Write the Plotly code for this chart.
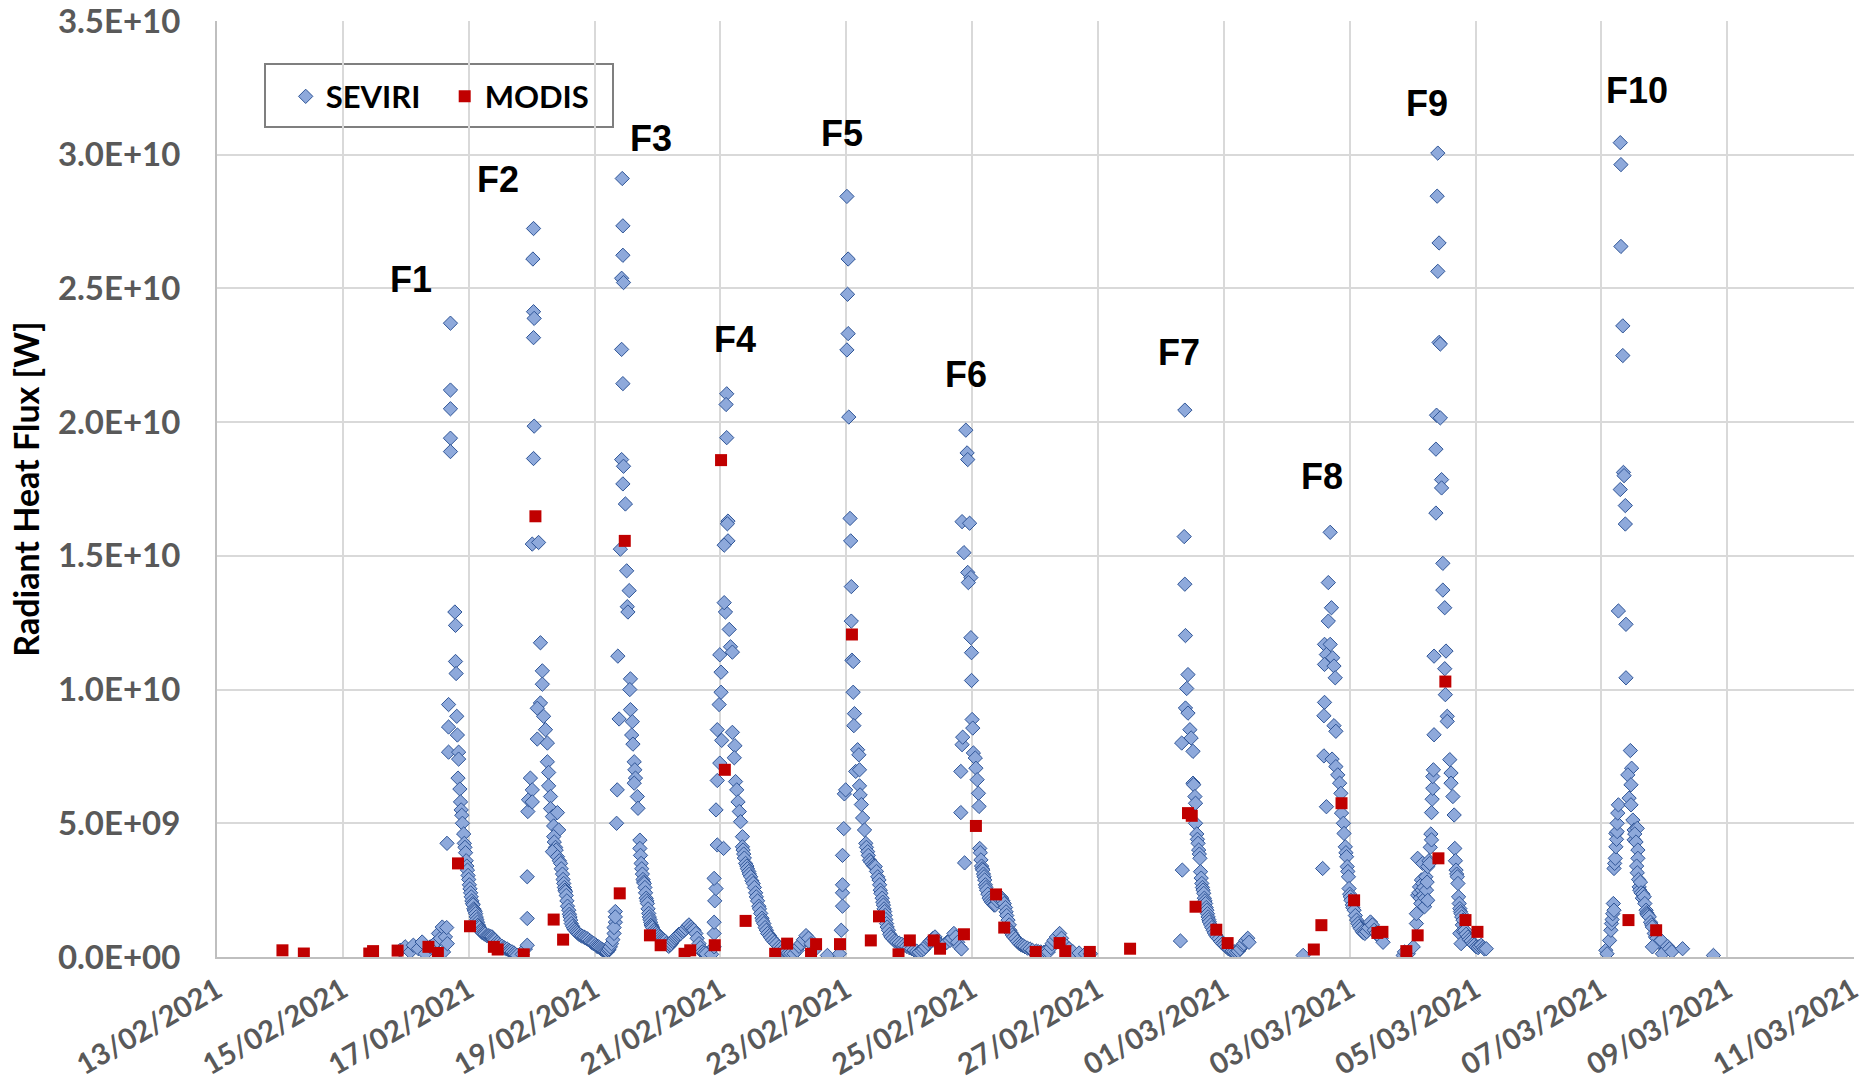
import numpy as np
import pandas as pd
import plotly.graph_objects as go

# ---------------- data ----------------
# time = days after 13/02/2021 00:00, flux in GW (x1e9 W)
start_date = "2021-02-13"
end_date = "2021-03-11 00:20"

seviri_f1 = [(2.91,0.25),(2.99,0.38),(3.07,0.19),(3.12,0.44),(3.20,0.31),(3.26,0.56),(3.31,0.12),(3.39,0.38),
    (3.44,0.3),(3.47,0.5),(3.50,0.6),(3.52,0.88),(3.55,0.7),(3.58,1.12),(3.60,0.19),(3.63,0.75),(3.65,1.1),(3.66,0.5),(3.655,4.25),
    (3.68,9.44),(3.68,8.6),(3.68,7.66),(3.71,23.7),(3.71,21.2),(3.71,20.5),(3.71,19.4),(3.71,18.9),
    (3.78,12.9),(3.79,12.4),(3.79,11.05),(3.80,10.6),(3.81,9.0),(3.82,8.3),(3.84,7.66),(3.84,7.4),(3.83,6.69),
    (3.86,6.28),(3.87,5.8),(3.88,5.5),(3.89,5.3),(3.90,5.0),(3.92,4.6),(3.93,4.25),(3.94,4.1),(3.95,3.9),(3.96,3.6),
    (3.97,3.4),(3.98,3.25),(3.99,3.05),(4.00,2.9),(4.01,2.7),(4.02,2.55),(4.03,2.4),(4.04,2.25),(4.05,2.1),(4.06,2.0),
    (4.07,1.95),(4.08,1.8),(4.09,1.75),(4.10,1.7),(4.11,1.62),(4.12,1.5),(4.13,1.4),(4.14,1.3),(4.15,1.2),(4.16,1.15),
    (4.17,1.1),(4.19,1.0),(4.20,0.95),(4.22,0.9),(4.24,0.88),(4.26,0.85),(4.29,0.8),(4.31,0.8),(4.33,0.78),(4.35,0.76),
    (4.37,0.75),(4.39,0.7),(4.40,0.65),(4.42,0.62),(4.45,0.55),(4.47,0.5),(4.50,0.44),(4.53,0.4),(4.56,0.35),(4.58,0.32),
    (4.61,0.3),(4.64,0.25),(4.66,0.22),(4.69,0.19),(4.72,0.15),(4.74,0.1),(4.77,0.06)]

seviri_f2 = [(4.85,0.1),(4.90,0.3),(4.93,1.44),(4.93,3.0),(4.93,0.44),(4.94,5.44),(4.95,5.88),(4.98,6.69),(5.01,6.25),
    (5.01,5.8),(5.01,15.44),(5.11,15.5),(5.03,27.24),(5.02,26.1),(5.03,24.13),(5.04,23.88),(5.03,23.16),(5.04,19.85),(5.03,18.64),
    (5.14,11.75),(5.17,10.7),(5.17,10.2),(5.14,9.5),(5.09,9.3),(5.19,9.0),(5.22,8.5),(5.09,8.15),(5.25,8.0),(5.25,7.3),
    (5.27,6.9),(5.27,6.4),(5.30,6.0),(5.30,5.55),(5.33,5.25),(5.41,5.4),(5.35,4.9),(5.43,4.75),(5.35,4.5),(5.36,4.3),
    (5.38,4.1),(5.39,4.0),(5.33,3.94),(5.41,3.75),(5.44,3.6),(5.46,3.5),(5.47,3.3),(5.49,3.1),(5.50,2.9),(5.51,2.75),
    (5.52,2.6),(5.53,2.5),(5.54,2.44),(5.55,2.3),(5.56,2.1),(5.57,1.9),(5.59,1.75),(5.60,1.6),(5.61,1.5),(5.62,1.38),
    (5.63,1.25),(5.65,1.15),(5.67,1.06),(5.69,1.0),(5.71,0.95),(5.73,0.9),(5.75,0.85),(5.78,0.81),(5.80,0.78),(5.83,0.75),
    (5.85,0.72),(5.88,0.69),(5.90,0.65),(5.93,0.6),(5.95,0.55),(5.97,0.52),(5.99,0.5),(6.02,0.45),(6.04,0.4),(6.06,0.38),
    (6.08,0.35),(6.10,0.31),(6.12,0.28),(6.14,0.25),(6.16,0.22),(6.18,0.2),(6.20,0.19),(6.22,0.25),(6.23,0.3),(6.25,0.38),
    (6.27,0.5),(6.29,0.65),(6.31,0.88),(6.33,1.3),(6.33,1.7)]

seviri_f3 = [(6.31,1.1),(6.33,1.5),(6.35,5.0),(6.36,6.25),(6.39,8.9),(6.37,11.25),(6.41,15.25),(6.49,16.94),
    (6.44,29.11),(6.45,27.34),(6.45,26.24),(6.43,25.38),(6.46,25.22),(6.43,22.72),(6.45,21.44),(6.43,18.6),(6.46,18.35),(6.45,17.69),
    (6.51,14.44),(6.55,13.7),(6.52,13.1),(6.53,12.9),(6.57,10.4),(6.56,10.0),(6.57,9.25),(6.60,8.8),(6.59,8.3),(6.61,7.96),
    (6.63,7.3),(6.64,7.0),(6.65,6.69),(6.63,6.5),(6.68,6.0),(6.69,5.56),(6.72,4.37),(6.72,4.06),(6.73,3.8),(6.74,3.5),
    (6.75,3.3),(6.76,3.1),(6.77,2.9),(6.78,2.8),(6.79,2.75),(6.80,2.6),(6.81,2.4),(6.82,2.2),(6.83,2.1),(6.84,2.0),
    (6.85,1.8),(6.86,1.63),(6.87,1.5),(6.88,1.4),(6.89,1.3),(6.90,1.2),(6.91,1.15),(6.92,1.1),(6.94,1.0),(6.96,0.95),
    (6.98,0.9),(7.00,0.85),(7.02,0.8),(7.04,0.75),(7.06,0.7),(7.08,0.66),(7.10,0.63),(7.12,0.6),(7.14,0.5),(7.16,0.44),
    (7.18,0.4),(7.20,0.45),(7.22,0.5),(7.24,0.58),(7.26,0.63),(7.28,0.7),(7.30,0.75),(7.32,0.8),(7.34,0.85),(7.37,0.88),
    (7.40,0.95),(7.42,1.0),(7.45,1.06),(7.48,1.15),(7.50,1.2),(7.53,1.12),(7.56,1.05),(7.58,1.0),(7.61,0.88),(7.63,0.7),
    (7.66,0.5),(7.68,0.35),(7.71,0.19),(7.74,0.15),(7.77,0.12)]

seviri_f4 = [(7.86,0.1),(7.90,0.38),(7.90,0.88),(7.90,1.3),(7.91,2.1),(7.93,2.56),(7.90,2.94),(7.95,4.19),(8.05,4.06),
    (7.93,5.5),(7.95,6.6),(7.99,7.25),(8.02,8.1),(7.95,8.5),(7.98,9.44),(8.01,9.9),(8.01,10.65),(7.99,11.3),(8.08,12.9),
    (8.06,13.25),(8.12,15.56),(8.06,15.4),(8.12,16.3),(8.10,21.06),(8.09,20.66),(8.10,19.42),(8.11,16.2),
    (8.14,12.25),(8.16,11.6),(8.19,11.4),(8.19,8.4),(8.23,7.9),(8.22,7.45),(8.24,6.56),(8.26,6.25),(8.28,5.8),(8.30,5.44),
    (8.32,5.06),(8.35,4.5),(8.35,4.12),(8.36,4.0),(8.37,3.85),(8.38,3.7),(8.40,3.5),(8.42,3.4),(8.43,3.3),(8.45,3.2),
    (8.46,3.1),(8.48,3.0),(8.50,2.85),(8.52,2.75),(8.54,2.6),(8.56,2.4),(8.57,2.25),(8.59,2.1),(8.61,1.9),(8.62,1.8),
    (8.64,1.63),(8.66,1.45),(8.67,1.35),(8.69,1.25),(8.71,1.1),(8.73,1.0),(8.75,0.88),(8.78,0.8),(8.80,0.72),(8.83,0.63),
    (8.86,0.55),(8.89,0.48),(8.93,0.38),(8.96,0.32),(8.99,0.25),(9.04,0.19),(9.08,0.15),(9.12,0.14),(9.17,0.12),(9.22,0.25),
    (9.25,0.4),(9.28,0.5),(9.32,0.65),(9.36,0.8),(9.40,0.7),(9.44,0.5),(9.49,0.25),(9.70,0.06),(9.89,0.12)]

seviri_f5 = [(9.92,1.0),(9.94,1.9),(9.94,2.4),(9.94,2.7),(9.94,3.8),(9.96,4.8),(9.97,6.1),(9.99,6.25),
    (10.01,28.44),(10.03,26.1),(10.02,24.78),(10.03,23.31),(10.01,22.7),(10.04,20.19),
    (10.06,16.4),(10.07,15.56),(10.08,13.85),(10.08,12.56),(10.09,11.1),(10.11,11.05),(10.11,9.9),(10.13,9.1),(10.12,8.65),
    (10.18,7.75),(10.20,7.56),(10.15,6.94),(10.21,7.0),(10.21,6.4),(10.22,6.06),(10.24,5.7),(10.26,5.2),(10.29,4.75),
    (10.31,4.25),(10.32,4.1),(10.34,3.94),(10.35,3.8),(10.37,3.62),(10.39,3.55),(10.42,3.45),(10.44,3.4),(10.46,3.38),
    (10.48,3.2),(10.50,3.0),(10.52,2.88),(10.53,2.7),(10.54,2.5),(10.55,2.38),(10.57,2.2),(10.58,2.05),(10.59,1.94),
    (10.60,1.8),(10.61,1.7),(10.62,1.56),(10.63,1.4),(10.64,1.25),(10.65,1.12),(10.67,1.0),(10.69,0.85),(10.71,0.75),
    (10.74,0.68),(10.77,0.6),(10.80,0.56),(10.84,0.52),(10.88,0.48),(10.92,0.44),(10.96,0.4),(11.00,0.35),(11.04,0.31),
    (11.08,0.26),(11.12,0.22),(11.16,0.19),(11.20,0.25),(11.23,0.3),(11.26,0.38),(11.30,0.5),(11.33,0.58),(11.35,0.62),
    (11.38,0.7),(11.41,0.75),(11.44,0.6),(11.47,0.5),(11.50,0.38),(11.55,0.45),(11.60,0.55),(11.65,0.62),(11.68,0.7),
    (11.71,0.88),(11.74,0.75),(11.77,0.55),(11.80,0.38),(11.83,0.3)]

seviri_f6 = [(11.82,5.4),(11.82,6.94),(11.84,7.94),(11.85,8.22),(11.88,3.52),(11.87,15.12),(11.84,16.28),(11.96,16.22),
    (11.93,14.38),(11.98,14.19),(11.94,14.0),(11.98,11.94),(11.99,11.38),(11.99,10.34),(11.90,19.7),(11.92,18.85),(11.93,18.6),
    (12.00,8.88),(12.01,8.56),(12.02,7.63),(12.05,7.44),(12.06,7.06),(12.08,6.63),(12.10,6.12),(12.11,5.63),(12.12,4.06),
    (12.13,3.9),(12.14,3.63),(12.15,3.4),(12.16,3.3),(12.17,3.25),(12.18,3.1),(12.19,3.0),(12.20,2.88),(12.21,2.7),
    (12.22,2.6),(12.23,2.5),(12.25,2.35),(12.27,2.2),(12.29,2.12),(12.31,2.05),(12.33,2.0),(12.35,1.94),(12.37,1.95),
    (12.40,2.1),(12.42,2.2),(12.45,2.25),(12.47,2.2),(12.49,2.1),(12.51,2.0),(12.53,1.85),(12.54,1.69),(12.55,1.55),
    (12.57,1.38),(12.59,1.2),(12.60,1.0),(12.62,0.9),(12.64,0.82),(12.66,0.75),(12.69,0.68),(12.72,0.58),(12.75,0.5),
    (12.78,0.45),(12.81,0.42),(12.84,0.38),(12.88,0.33),(12.92,0.3),(12.96,0.25),(13.02,0.22),(13.05,0.2),(13.09,0.19),
    (13.14,0.18),(13.17,0.2),(13.21,0.19),(13.25,0.35),(13.27,0.5),(13.30,0.62),(13.34,0.75),(13.39,0.88),(13.42,0.7),
    (13.45,0.5),(13.50,0.4),(13.54,0.31),(13.60,0.2),(13.70,0.15),(13.80,0.12),(13.88,0.12)]

seviri_f7 = [(15.31,0.6),(15.34,3.25),(15.33,8.0),(15.38,20.45),(15.37,15.72),(15.38,13.94),(15.39,12.02),(15.43,10.56),
    (15.41,10.04),(15.39,9.31),(15.43,9.12),(15.46,8.5),(15.48,8.19),(15.51,7.69),(15.51,6.5),(15.52,6.44),(15.54,6.0),
    (15.55,5.75),(15.55,5.0),(15.57,4.6),(15.58,4.4),(15.59,4.25),(15.60,4.0),(15.61,3.85),(15.62,3.69),(15.63,3.19),
    (15.64,2.95),(15.65,2.75),(15.66,2.6),(15.67,2.5),(15.68,2.38),(15.69,2.2),(15.70,2.1),(15.71,2.0),(15.72,1.85),
    (15.73,1.75),(15.74,1.62),(15.75,1.5),(15.76,1.4),(15.77,1.31),(15.79,1.2),(15.81,1.1),(15.83,1.0),(15.85,0.9),
    (15.87,0.82),(15.89,0.75),(15.92,0.68),(15.95,0.58),(15.98,0.5),(16.01,0.45),(16.04,0.38),(16.07,0.31),(16.10,0.28),
    (16.13,0.22),(16.16,0.2),(16.20,0.19),(16.23,0.22),(16.26,0.31),(16.30,0.45),(16.32,0.5),(16.35,0.62),(16.38,0.7),(16.40,0.55)]

seviri_f8 = [(17.26,0.06),(17.57,3.31),(17.63,5.62),(17.60,9.52),(17.59,9.02),(17.59,7.52),(17.69,15.88),(17.66,14.0),
    (17.71,13.06),(17.66,12.56),(17.60,11.69),(17.69,11.69),(17.63,11.31),(17.73,11.19),(17.60,10.94),(17.75,10.88),
    (17.77,10.44),(17.75,8.65),(17.78,8.44),(17.72,7.4),(17.78,7.12),(17.81,6.81),(17.84,6.5),(17.86,6.12),(17.87,5.38),
    (17.90,5.0),(17.91,4.62),(17.93,4.12),(17.94,3.9),(17.95,3.75),(17.96,3.38),(17.97,3.2),(17.98,3.0),(17.99,2.56),
    (18.00,2.35),(18.01,2.25),(18.02,2.12),(18.04,1.95),(18.05,1.85),(18.07,1.75),(18.09,1.55),(18.11,1.38),(18.13,1.25),
    (18.15,1.15),(18.17,1.06),(18.20,0.95),(18.22,0.9),(18.24,0.88),(18.27,0.95),(18.30,1.1),(18.33,1.31),(18.36,1.2),
    (18.39,1.0),(18.42,0.9),(18.45,0.8),(18.48,0.88),(18.50,0.7),(18.53,0.55)]

seviri_f9 = [(18.85,0.06),(18.87,0.19),(18.93,0.12),(19.01,0.38),(19.06,1.25),(19.06,1.62),(19.08,2.31),(19.10,2.4),
    (19.11,2.62),(19.12,2.2),(19.13,2.0),(19.14,2.88),(19.15,2.5),(19.16,2.75),(19.17,2.3),(19.18,2.6),(19.19,1.88),
    (19.20,2.2),(19.21,3.0),(19.22,2.5),(19.23,2.8),(19.24,2.12),(19.08,3.69),(19.16,3.5),(19.24,3.38),(19.26,3.6),
    (19.27,3.5),(19.28,4.1),(19.29,4.6),(19.30,4.38),(19.30,5.4),(19.31,5.9),(19.32,6.31),(19.32,6.75),(19.33,7.0),
    (19.34,8.31),(19.34,11.25),(19.37,16.6),(19.40,30.06),(19.39,28.45),(19.42,26.7),(19.40,25.64),(19.42,22.98),
    (19.44,22.92),(19.38,20.26),(19.44,20.16),(19.37,18.99),(19.46,17.85),(19.46,17.54),(19.48,14.72),(19.48,13.72),
    (19.51,13.06),(19.53,11.44),(19.51,10.78),(19.52,9.81),(19.55,9.0),(19.55,8.81),(19.59,7.38),(19.61,6.88),(19.61,6.5),
    (19.64,6.0),(19.66,5.31),(19.67,4.06),(19.68,3.6),(19.69,3.25),(19.70,3.1),(19.71,3.0),(19.72,2.75),(19.73,2.25),
    (19.74,2.0),(19.75,1.81),(19.76,1.7),(19.77,1.62),(19.78,1.5),(19.79,1.2),(19.80,1.38),(19.75,0.88),(19.77,0.5),
    (19.81,0.95),(19.83,1.0),(19.85,0.85),(19.88,0.75),(19.90,0.65),(19.93,0.6),(19.96,0.5),(19.98,0.45),(20.01,0.38),
    (20.04,0.35),(20.06,0.4),(20.09,0.44),(20.12,0.36),(20.14,0.3),(20.17,0.31)]

seviri_f10 = [(22.07,0.25),(22.09,0.12),(22.13,0.62),(22.15,1.0),(22.16,1.25),(22.17,1.4),(22.18,1.62),(22.19,2.0),
    (22.20,1.75),(22.20,3.31),(22.21,3.5),(22.22,3.69),(22.23,4.12),(22.23,4.62),(22.24,4.4),(22.25,4.69),(22.25,5.0),
    (22.26,5.38),(22.27,5.69),(22.27,12.94),(22.30,30.45),(22.31,29.63),(22.31,26.57),(22.34,23.6),(22.34,22.49),
    (22.35,18.12),(22.36,18.0),(22.30,17.48),(22.38,16.88),(22.38,16.19),(22.39,12.44),(22.39,10.44),(22.46,7.72),
    (22.48,7.06),(22.42,6.81),(22.47,6.44),(22.44,5.94),(22.47,5.69),(22.50,5.12),(22.52,4.75),(22.57,4.81),(22.52,4.38),
    (22.53,4.6),(22.55,4.3),(22.58,4.0),(22.58,3.69),(22.56,3.4),(22.57,3.15),(22.59,2.9),(22.60,2.62),(22.61,2.5),
    (22.62,2.8),(22.63,2.4),(22.65,2.2),(22.66,2.35),(22.68,2.25),(22.69,2.0),(22.71,1.75),(22.72,1.65),(22.73,1.6),
    (22.74,1.55),(22.76,1.5),(22.78,1.3),(22.80,1.2),(22.81,1.12),(22.84,0.88),(22.86,0.75),(22.88,0.7),(22.91,0.55),
    (22.95,0.62),(22.81,0.38),(22.97,0.12),(23.05,0.4),(23.08,0.31),(23.12,0.2),(23.29,0.31),(23.78,0.06)]

modis = [(1.04,0.25),(1.38,0.13),(2.42,0.13),(2.48,0.22),(2.87,0.24),(3.36,0.38),(3.51,0.15),(3.83,3.5),(4.02,1.15),
    (4.40,0.38),(4.46,0.28),(4.875,0.1),(5.06,16.48),(5.35,1.4),(5.50,0.65),(6.40,2.38),(6.48,15.56),(6.88,0.81),
    (7.05,0.44),(7.43,0.12),(7.52,0.25),(7.91,0.44),(8.01,18.58),(8.07,7.0),(8.40,1.35),(8.87,0.12),(9.06,0.5),
    (9.44,0.12),(9.52,0.48),(9.90,0.48),(10.09,12.06),(10.39,0.62),(10.52,1.52),(10.83,0.1),(11.01,0.62),(11.39,0.62),
    (11.49,0.31),(11.87,0.85),(12.06,4.9),(12.38,2.34),(12.51,1.1),(13.01,0.19),(13.39,0.52),(13.48,0.22),(13.87,0.19),
    (14.51,0.31),(15.43,5.38),(15.49,5.28),(15.55,1.88),(15.88,1.02),(16.06,0.52),(17.43,0.28),(17.55,1.19),(17.87,5.75),
    (18.07,2.12),(18.44,0.9),(18.52,0.94),(18.90,0.22),(19.08,0.81),(19.41,3.69),(19.52,10.3),(19.84,1.38),(20.03,0.94),
    (22.43,1.38),(22.87,1.0)]

event_labels = ["F1", "F2", "F3", "F4", "F5", "F6", "F7", "F8", "F9", "F10"]
event_label_day = [3.085, 4.461, 6.893, 8.231, 9.927, 11.906, 15.28, 17.56, 19.236, 22.57]
event_label_gw = [25.32, 29.06, 30.62, 23.10, 30.8, 21.8, 22.6, 17.98, 31.91, 32.4]

y_tick_values = [0, 5e9, 1e10, 1.5e10, 2e10, 2.5e10, 3e10, 3.5e10]
y_tick_labels = ["0.0E+00", "5.0E+09", "1.0E+10", "1.5E+10", "2.0E+10", "2.5E+10", "3.0E+10", "3.5E+10"]

# ---------------- build ----------------
base = pd.Timestamp(start_date)
seviri = (seviri_f1 + seviri_f2 + seviri_f3 + seviri_f4 + seviri_f5 +
          seviri_f6 + seviri_f7 + seviri_f8 + seviri_f9 + seviri_f10)

def to_xy(pairs):
    d = np.array([p[0] for p in pairs])
    v = np.array([p[1] for p in pairs]) * 1e9
    t = base + pd.to_timedelta(d, unit="D")
    return t, v

sx, sy = to_xy(seviri)
mx, my = to_xy(modis)

TICKFONT = "Lato, Liberation Sans, sans-serif"
LABFONT = "Liberation Sans, Arial, sans-serif"

fig = go.Figure()
fig.add_trace(go.Scatter(
    x=sx, y=sy, mode="markers", name="SEVIRI",
    marker=dict(symbol="diamond", size=11, color="#8EA9DB",
                line=dict(color="#2F5597", width=1))))
fig.add_trace(go.Scatter(
    x=mx, y=my, mode="markers", name="MODIS",
    marker=dict(symbol="square", size=12, color="#C00000", line=dict(width=0))))

for lab, d, g in zip(event_labels, event_label_day, event_label_gw):
    fig.add_annotation(x=base + pd.Timedelta(days=d), y=g * 1e9, text=lab,
                       showarrow=False, xanchor="center", yanchor="middle",
                       font=dict(family=LABFONT, size=36, color="black", weight="bold"))

# figure fills the whole 1864x1089 window (body margin removed below)
W, H = 1864, 1089
L, R, T, B = 217, 10, 21, 132
pw, ph = W - L - R, H - T - B

def px(xw):
    return (xw - L) / pw

def py(yw):
    return 1 - (yw - T) / ph

# legend frame
fig.add_shape(type="rect", xref="paper", yref="paper",
              x0=px(265), x1=px(613), y0=py(127), y1=py(64),
              line=dict(color="#7F7F7F", width=2), fillcolor="white", layer="between")

fig.update_layout(
    width=W, height=H,
    margin=dict(l=L, r=R, t=T, b=B, autoexpand=False),
    paper_bgcolor="white", plot_bgcolor="white",
    showlegend=True,
    legend=dict(orientation="h", x=px(285.7), y=py(96.7),
                xanchor="left", yanchor="middle",
                bgcolor="rgba(0,0,0,0)", borderwidth=0,
                font=dict(family=TICKFONT, size=31, color="black", weight="bold"),
                entrywidth=114, entrywidthmode="pixels", tracegroupgap=0),
    xaxis=dict(type="date", range=[start_date, end_date],
               tick0=start_date, dtick=2 * 86400000, tickformat="%d/%m/%Y",
               tickangle=-30, ticks="outside", ticklen=3, tickcolor="rgba(0,0,0,0)",
               ticklabeloverflow="allow",
               tickfont=dict(family=TICKFONT, size=29, color="#595959", weight="bold"),
               showgrid=True, gridcolor="#D9D9D9", gridwidth=2,
               showline=True, linecolor="#BFBFBF", linewidth=2, zeroline=False),
    yaxis=dict(range=[0, 3.5e10], tickvals=y_tick_values, ticktext=y_tick_labels,
               ticks="outside", ticklen=28, tickcolor="rgba(0,0,0,0)",
               ticklabeloverflow="allow",
               tickfont=dict(family=TICKFONT, size=33, color="#595959", weight="bold"),
               showgrid=True, gridcolor="#D9D9D9", gridwidth=2,
               showline=True, linecolor="#BFBFBF", linewidth=2, zeroline=False,
               title=dict(text="Radiant Heat Flux [W]", standoff=8,
                          font=dict(family=TICKFONT, size=34, color="black", weight="bold"))),
)

fig.write_html("out.html",
               config={"displayModeBar": False},
               post_script="document.body.style.margin='0px';document.body.style.overflow='hidden';")
